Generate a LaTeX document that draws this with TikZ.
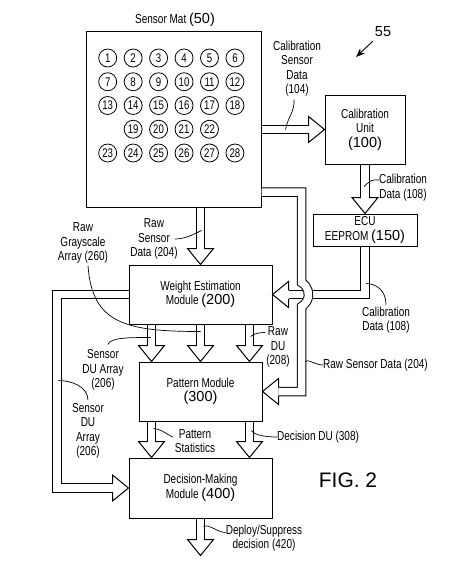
\documentclass[tikz,border=0pt]{standalone}
\usepackage{fontspec}
\newfontfamily\lblfont[FakeStretch=0.77]{Liberation Sans}
\newfontfamily\numfont{Liberation Sans}
\usetikzlibrary{arrows.meta,calc}
\newcommand{\bnum}[1]{{\numfont\fontsize{14.5}{15}\selectfont #1}}
\newcommand{\headdown}[1]{\draw[blk] ($(#1)+(-4.25,-16)$) -- ++(-8.75,0) -- (#1) -- ++(13,-16) -- ++(-8.75,0);}
\newcommand{\headright}[1]{\draw[blk] ($(#1)+(-16,-4.25)$) -- ++(0,-8.75) -- (#1) -- ++(-16,13) -- ++(0,-8.75);}
\newcommand{\headleft}[1]{\draw[blk] ($(#1)+(16,-4.25)$) -- ++(0,-8.75) -- (#1) -- ++(16,13) -- ++(0,-8.75);}

\begin{document}
\begin{tikzpicture}[x=1pt, y=-1pt,
  box/.style={draw, line width=1pt, align=center, inner sep=0pt,
    font=\lblfont\fontsize{13}{14.5}\selectfont},
  lbl/.style={align=center, inner sep=0pt, font=\lblfont\fontsize{13}{14.5}\selectfont},
  pad/.style={draw, circle, line width=0.8pt, minimum size=18pt, inner sep=0pt,
    font=\lblfont\fontsize{12.5}{13}\selectfont},
  blk/.style={line width=1pt, line join=miter},
  shaft/.style={draw, double=white, double distance=7.5pt, line width=1pt, line join=miter},
  lead/.style={line width=0.7pt}]
\useasboundingbox (0,0) rectangle (452,570);
% Sensor mat
\node[box, minimum width=175pt, minimum height=176pt] (mat) at (173.5,119) {};
\node[lbl] (tmat) at (175,20) {Sensor Mat \bnum{(50)}};
\foreach \r/\first in {0/1,1/7,2/13,4/23}
  \foreach \c in {0,...,5} {
    \pgfmathtruncatemacro\n{\first+\c}
    \node[pad] (s\n) at (107.7+25.45*\c, 58+23.75*\r) {\n};
  }
\foreach \c in {1,...,4} {
  \pgfmathtruncatemacro\n{18+\c}
  \node[pad] (s\n) at (107.7+25.45*\c, 58+23.75*3) {\n};
}
% Modules
\node[box, minimum width=80pt, minimum height=69pt] (cal) at (365,129.5) {Calibration\\Unit\\\bnum{(100)}};
\node[box, minimum width=104pt, minimum height=32pt] (ecu) at (365,230) {ECU\\EEPROM \bnum{(150)}};
\node[box, minimum width=143pt, minimum height=59pt] (wem) at (200.5,294.5) {Weight Estimation\\Module \bnum{(200)}};
\node[box, minimum width=123pt, minimum height=59pt] (pat) at (200.5,391.5) {Pattern Module\\\bnum{(300)}};
\node[box, minimum width=143pt, minimum height=60pt] (dmm) at (200.5,488) {Decision-Making\\Module \bnum{(400)}};
% Figure reference
\node[font=\numfont\fontsize{14.5}{15}\selectfont, inner sep=1pt] (n55) at (383,32) {55};
\coordinate (p55) at (356,57);
\draw[line width=0.9pt, -{Stealth[length=9pt,width=7pt]}] ($(n55.south west)+(-1,3)$) -- (p55);
\node[font=\numfont\fontsize{21}{21}\selectfont] (fig) at (348,480) {FIG. 2};
% Mat -> calibration unit -> ECU
\draw[shaft] (mat.east |- cal.west) -- ($(cal.west)+(-16,0)$);
\headright{cal.west}
\draw[shaft] (cal.south) -- ($(ecu.north)+(0,-16)$);
\headdown{ecu.north}
% Mat -> weight estimation
\draw[shaft] (wem.north |- mat.south) -- ($(wem.north)+(0,-16)$);
\headdown{wem.north}
% Weight estimation -> pattern
\foreach \dx [count=\i] in {-49,0,49} {
  \coordinate (wp\i) at ($(pat.north)+(\dx,0)$);
  \draw[shaft] ($(wem.south)+(\dx,0)$) -- ($(wp\i)+(0,-16)$);
  \headdown{wp\i}
}
% Pattern -> decision
\foreach \dx [count=\i] in {-49,49} {
  \coordinate (pd\i) at ($(dmm.north)+(\dx,0)$);
  \draw[shaft] ($(pat.south)+(\dx,0)$) -- ($(pd\i)+(0,-16)$);
  \headdown{pd\i}
}
% Decision output
\coordinate (out) at ($(dmm.south)+(0,37)$);
\draw[shaft] (dmm.south) -- ($(out)+(0,-16)$);
\headdown{out}
% ECU -> weight estimation
\draw[shaft] (ecu.south) |- ($(wem.east)+(16,0)$);
\headleft{wem.east}
% Mat -> pattern, jumping over the calibration line
\coordinate (rsd) at (301.5,294.5);
\draw[shaft] ($(mat.south east)+(0,-15.5)$) -| ($(rsd)+(0,-12)$)
  arc[start angle=60.5, end angle=-60.5, radius=13.8pt] |- ($(pat.east)+(16,0)$);
\headleft{pat.east}
% Weight estimation -> decision
\draw[shaft] (wem.west) -- ++(-71.5,0) |- ($(dmm.west)+(-16,0)$);
\headright{dmm.west}
% Labels
\node[lbl] (l104) at (297,68.5) {Calibration\\Sensor\\Data\\(104)};
\draw[lead] ($(l104.south)+(-3,3)$) .. controls +(1,12) and +(2,-12) .. ($(mat.east |- cal.west)+(24,0)$);
\node[lbl] (l108a) at (403,187.5) {Calibration\\Data (108)};
\draw[lead] ($(l108a.north west)+(0,6)$) .. controls +(-7,-1) and +(5,-5) .. ($(cal.south)+(-1,22)$);
\node[lbl] (l108b) at (386,320) {Calibration\\Data (108)};
\draw[lead] ($(l108b.north)+(0,-2)$) .. controls +(0,-14) and +(10,0) .. ($(ecu.south)+(1,37)$);
\node[lbl] (l204a) at (154,239) {Raw\\Sensor\\Data (204)};
\draw[lead] ($(l204a.east)+(-3,0)$) .. controls +(10,0) and +(-8,4) .. ($(wem.north)+(1,-34)$);
\node[lbl] (l260) at (83,243) {Raw\\Grayscale\\Array (260)};
\draw[lead] ($(l260.south)+(5,2)$) .. controls +(4,58) and +(-75,0) .. ($(wp2)+(0,-30)$);
\node[lbl] (l208) at (278,347) {Raw\\DU\\(208)};
\draw[lead] ($(l208.north west)+(-1,6)$) .. controls +(-6,0) and +(4,-3) .. ($(wp3)+(1,-25)$);
\node[lbl] (l206a) at (103,370) {Sensor\\DU Array\\(206)};
\draw[lead] ($(l206a.north)+(5,-5)$) .. controls +(2,-7) and +(-20,0) .. ($(wp1)+(-1,-24)$);
\node[lbl] (l206b) at (88,431) {Sensor\\DU\\Array\\(206)};
\draw[lead] ($(l206b.north)+(0,-3)$) .. controls +(0,-14) and +(12,0) .. ($(wem.west)+(-70,86)$);
\node[lbl] (lstat) at (195,441) {Pattern\\Statistics};
\draw[lead] ($(lstat.north west)+(-2,8)$) .. controls +(-6,-3) and +(6,0) .. ($(pd1)+(2,-29)$);
\node[lbl, anchor=west] (ldu) at (277,437) {Decision DU (308)};
\draw[lead] (ldu.west) .. controls +(-10,0) and +(3,5) .. ($(pd2)+(2,-27)$);
\node[lbl, anchor=west] (lraw) at (323,365) {Raw Sensor Data (204)};
\draw[lead] (lraw.west) .. controls +(-8,0) and +(3,-3) .. ($(rsd)+(3.5,67)$);
\node[lbl] (l420) at (264,538) {Deploy/Suppress\\decision (420)};
\draw[lead] ($(l420.north west)+(0,8)$) .. controls +(-8,0) and +(5,-3) .. ($(dmm.south)+(3,8)$);
\end{tikzpicture}
\end{document}
